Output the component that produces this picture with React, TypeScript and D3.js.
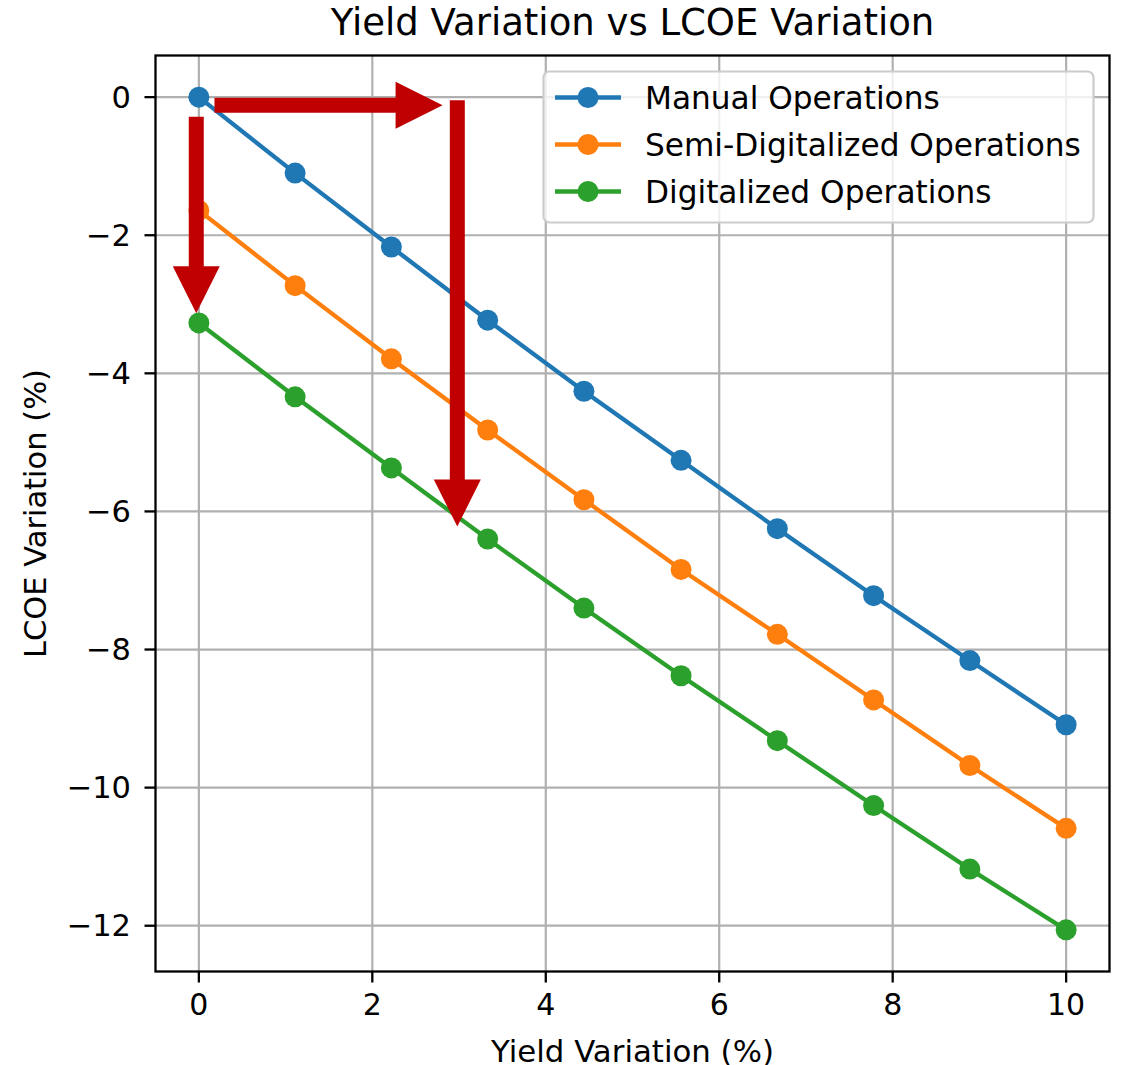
import React from "react";
import * as d3 from "d3";

const yieldVariation = [0, 1.11, 2.22, 3.33, 4.44, 5.56, 6.67, 7.78, 8.89, 10];
const manualOps = [0, -1.1, -2.17, -3.23, -4.26, -5.26, -6.25, -7.22, -8.16, -9.09];
const semiDigitalOps = [-1.64, -2.73, -3.79, -4.82, -5.83, -6.84, -7.78, -8.73, -9.68, -10.59];
const digitalOps = [-3.27, -4.34, -5.37, -6.4, -7.4, -8.38, -9.32, -10.26, -11.18, -12.06];
const seriesNames = ["Manual Operations", "Semi-Digitalized Operations", "Digitalized Operations"];
const seriesColors = ["#1f77b4", "#ff7f0e", "#2ca02c"];
const xTicks = [0, 2, 4, 6, 8, 10];
const yTicks = [0, -2, -4, -6, -8, -10, -12];
// annotation arrows in data coordinates
const arrows = [
  { x1: 0.18, y1: -0.116, x2: 2.81, y2: -0.116 },
  { x1: -0.03, y1: -0.285, x2: -0.03, y2: -3.13 },
  { x1: 2.98, y1: -0.044, x2: 2.98, y2: -6.22 },
];

const W = 1122;
const H = 1065;
const left = 155.5;
const right = 1109.5;
const top = 55.5;
const bottom = 971.5;
const FONT = "DejaVu Sans, Verdana, sans-serif";

export default function App() {
  const series = [manualOps, semiDigitalOps, digitalOps];
  const allY = series.flat();
  const xMin = d3.min(yieldVariation)!, xMax = d3.max(yieldVariation)!;
  const yMin = d3.min(allY)!, yMax = d3.max(allY)!;
  const xm = (xMax - xMin) * 0.05, ym = (yMax - yMin) * 0.05;
  const x = d3.scaleLinear().domain([xMin - xm, xMax + xm]).range([left, right]);
  const y = d3.scaleLinear().domain([yMin - ym, yMax + ym]).range([bottom, top]);
  const line = d3.line<number>().x((_, i) => x(yieldVariation[i])).y((v) => y(v));

  const arrowPath = (a: { x1: number; y1: number; x2: number; y2: number }) => {
    const X1 = x(a.x1), Y1 = y(a.y1), X2 = x(a.x2), Y2 = y(a.y2);
    const len = Math.hypot(X2 - X1, Y2 - Y1);
    const ux = (X2 - X1) / len, uy = (Y2 - Y1) / len;
    const px = -uy, py = ux;
    const sw = 7.5, hw = 23.5, hl = 47;
    const bx = X2 - ux * hl, by = Y2 - uy * hl;
    const pts = [
      [X1 + px * sw, Y1 + py * sw],
      [bx + px * sw, by + py * sw],
      [bx + px * hw, by + py * hw],
      [X2, Y2],
      [bx - px * hw, by - py * hw],
      [bx - px * sw, by - py * sw],
      [X1 - px * sw, Y1 - py * sw],
    ];
    return "M" + pts.map((p) => p.join(",")).join("L") + "Z";
  };

  const legX = 543.5, legY = 71.5, legW = 550, legH = 151;
  const rowY = [97.5, 144.5, 191.5];

  return (
    <svg width={W} height={H} style={{ position: "absolute", left: 0, top: 0, background: "#fff" }} fontFamily={FONT}>
      <rect x={0} y={0} width={W} height={H} fill="#fff" />
      {/* grid */}
      {xTicks.map((t) => (
        <line key={"gx" + t} x1={x(t)} x2={x(t)} y1={top} y2={bottom} stroke="#b0b0b0" strokeWidth={2.2} />
      ))}
      {yTicks.map((t) => (
        <line key={"gy" + t} x1={left} x2={right} y1={y(t)} y2={y(t)} stroke="#b0b0b0" strokeWidth={2.2} />
      ))}
      {/* series */}
      {series.map((s, si) => (
        <g key={"s" + si}>
          <path d={line(s)!} fill="none" stroke={seriesColors[si]} strokeWidth={4.3} />
          {s.map((v, i) => (
            <circle key={i} cx={x(yieldVariation[i])} cy={y(v)} r={10.5} fill={seriesColors[si]} />
          ))}
        </g>
      ))}
      {/* frame */}
      <rect x={left} y={top} width={right - left} height={bottom - top} fill="none" stroke="#000" strokeWidth={2.3} />
      {/* ticks */}
      {xTicks.map((t) => (
        <g key={"tx" + t}>
          <line x1={x(t)} x2={x(t)} y1={bottom} y2={bottom + 11} stroke="#000" strokeWidth={2.3} />
          <text x={x(t)} y={1015} textAnchor="middle" fontSize={30} fill="#000">
            {t.toString()}
          </text>
        </g>
      ))}
      {yTicks.map((t) => (
        <g key={"ty" + t}>
          <line x1={left - 11} x2={left} y1={y(t)} y2={y(t)} stroke="#000" strokeWidth={2.3} />
          <text x={131} y={y(t) + 10.5} textAnchor="end" fontSize={30.5} fill="#000">
            {t < 0 ? "\u2212" + Math.abs(t) : t.toString()}
          </text>
        </g>
      ))}
      {/* labels */}
      <text x={(left + right) / 2} y={35} textAnchor="middle" fontSize={37} fill="#000">
        Yield Variation vs LCOE Variation
      </text>
      <text x={(left + right) / 2} y={1062} textAnchor="middle" fontSize={30.8} fill="#000">
        Yield Variation (%)
      </text>
      <text
        transform={`translate(46,${(top + bottom) / 2}) rotate(-90)`}
        textAnchor="middle"
        fontSize={30.5}
        fill="#000"
      >
        LCOE Variation (%)
      </text>
      {/* legend */}
      <rect x={legX} y={legY} width={legW} height={legH} rx={6} ry={6} fill="#fff" fillOpacity={0.8} stroke="#cccccc" strokeWidth={2.2} />
      {seriesNames.map((name, i) => (
        <g key={"l" + i}>
          <line x1={555} x2={621} y1={rowY[i]} y2={rowY[i]} stroke={seriesColors[i]} strokeWidth={4.3} />
          <circle cx={588} cy={rowY[i]} r={10.5} fill={seriesColors[i]} />
          <text x={645} y={rowY[i] + 11} fontSize={31.2} fill="#000">
            {name}
          </text>
        </g>
      ))}
      {/* annotation arrows */}
      {arrows.map((a, i) => (
        <path key={"a" + i} d={arrowPath(a)} fill="#c00000" />
      ))}
    </svg>
  );
}
